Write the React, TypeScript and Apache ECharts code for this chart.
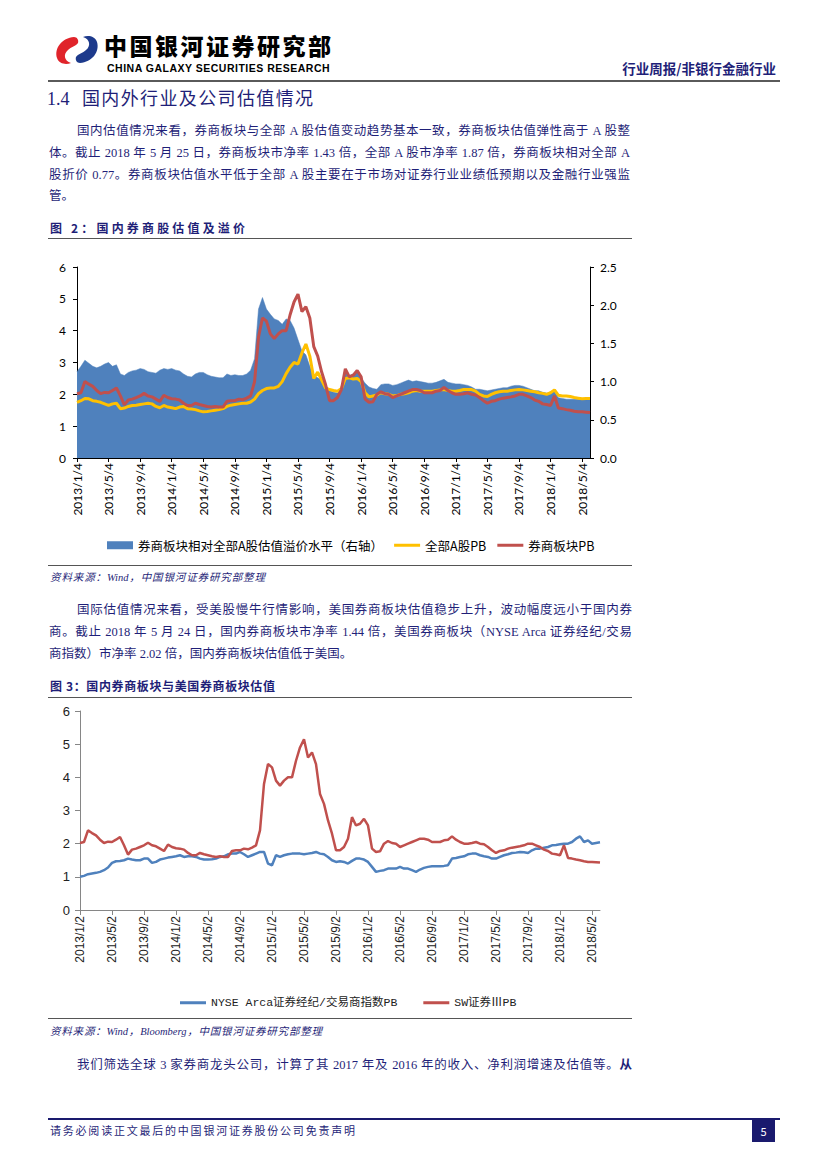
import React, { useEffect, useRef } from 'react';
import * as echarts from 'echarts';

// ---------- data (semi-monthly readings) ----------
// 券商板块PB (left axis) – also SW证券III PB in chart 3
const brokerPB = [
  2.02, 2.05, 2.40, 2.32, 2.25, 2.12, 2.02, 2.06, 2.05, 2.12,
  2.20, 1.95, 1.67, 1.82, 1.85, 1.90, 1.95, 2.03, 1.95, 1.92,
  1.85, 1.78, 1.97, 1.90, 1.86, 1.85, 1.82, 1.72, 1.65, 1.65,
  1.72, 1.68, 1.65, 1.62, 1.60, 1.62, 1.60, 1.60, 1.78, 1.80,
  1.80, 1.85, 1.83, 1.88, 1.95, 2.40, 3.80, 4.40, 4.30, 3.90,
  3.75, 3.90, 4.00, 4.00, 4.50, 4.90, 5.15, 4.60, 4.75, 4.40,
  3.50, 3.20, 2.70, 2.30, 1.80, 1.80, 1.90, 2.15, 2.80, 2.55,
  2.60, 2.75, 2.55, 1.85, 1.75, 1.77, 2.00, 2.08, 2.02, 2.00,
  1.90, 1.95, 2.00, 2.05, 2.10, 2.15, 2.15, 2.12, 2.05, 2.05,
  2.05, 2.10, 2.12, 2.22, 2.12, 2.05, 2.00, 2.00, 2.02, 2.05,
  2.00, 1.98, 1.90, 1.80, 1.72, 1.78, 1.80, 1.85, 1.88, 1.90,
  1.92, 1.95, 2.00, 2.00, 1.95, 1.90, 1.82, 1.78, 1.70, 1.68,
  1.65, 1.95, 1.57, 1.55, 1.52, 1.50, 1.47, 1.45, 1.45, 1.44,
  1.43,
];
// 全部A股PB (left axis)
const allAPB = [
  1.75, 1.80, 1.87, 1.86, 1.80, 1.78, 1.75, 1.70, 1.65, 1.70,
  1.72, 1.55, 1.57, 1.62, 1.65, 1.66, 1.68, 1.70, 1.72, 1.70,
  1.62, 1.58, 1.65, 1.60, 1.58, 1.55, 1.60, 1.62, 1.55, 1.54,
  1.52, 1.48, 1.45, 1.46, 1.48, 1.50, 1.52, 1.55, 1.62, 1.66,
  1.68, 1.70, 1.72, 1.72, 1.76, 1.85, 2.02, 2.12, 2.18, 2.20,
  2.20, 2.25, 2.40, 2.65, 2.85, 3.00, 2.95, 3.30, 3.58, 3.20,
  2.50, 2.70, 2.45, 2.20, 2.15, 2.12, 2.10, 2.18, 2.50, 2.52,
  2.48, 2.50, 2.40, 2.05, 1.92, 1.95, 1.98, 2.05, 2.02, 2.00,
  1.95, 1.96, 2.00, 2.02, 2.05, 2.10, 2.12, 2.10, 2.10, 2.10,
  2.10, 2.12, 2.14, 2.15, 2.12, 2.10, 2.10, 2.12, 2.15, 2.15,
  2.15, 2.10, 2.00, 1.95, 1.93, 2.00, 2.05, 2.08, 2.10, 2.10,
  2.12, 2.14, 2.15, 2.14, 2.12, 2.10, 2.08, 2.05, 2.03, 2.00,
  2.05, 2.14, 1.97, 1.95, 1.95, 1.93, 1.90, 1.88, 1.86, 1.87,
  1.87,
];
// 券商板块相对全部A股估值溢价水平 (right axis)
const premium = [
  1.13, 1.20, 1.28, 1.24, 1.20, 1.18, 1.20, 1.23, 1.25, 1.20,
  1.22, 1.10, 1.08, 1.12, 1.14, 1.15, 1.17, 1.16, 1.13, 1.12,
  1.11, 1.15, 1.17, 1.16, 1.17, 1.15, 1.14, 1.10, 1.07, 1.06,
  1.10, 1.12, 1.12, 1.09, 1.07, 1.06, 1.05, 1.05, 1.10, 1.08,
  1.09, 1.08, 1.08, 1.10, 1.15, 1.30, 1.95, 2.10, 1.95, 1.88,
  1.82, 1.80, 1.75, 1.82, 1.80, 1.70, 1.55, 1.40, 1.35, 1.20,
  1.08, 1.05, 1.02, 0.95, 0.88, 0.86, 0.85, 0.90, 1.15, 1.08,
  1.10, 1.15, 1.05, 0.98, 0.93, 0.91, 0.90, 0.96, 0.97, 0.97,
  0.95, 0.96, 0.98, 1.00, 1.02, 1.00, 1.01, 1.00, 0.99, 0.98,
  0.98, 0.99, 1.01, 1.03, 0.99, 0.98, 0.97, 0.97, 0.96, 0.95,
  0.93, 0.90, 0.90, 0.89, 0.88, 0.89, 0.90, 0.91, 0.92, 0.92,
  0.94, 0.95, 0.95, 0.94, 0.92, 0.90, 0.88, 0.88, 0.86, 0.85,
  0.85, 0.88, 0.79, 0.78, 0.77, 0.77, 0.77, 0.77, 0.76, 0.76,
  0.76,
];
// NYSE Arca证券经纪/交易商指数PB
const nysePB = [
  1.00, 1.03, 1.08, 1.10, 1.12, 1.15, 1.20, 1.28, 1.42, 1.47,
  1.48, 1.50, 1.55, 1.52, 1.50, 1.50, 1.55, 1.55, 1.42, 1.45,
  1.52, 1.55, 1.58, 1.60, 1.62, 1.65, 1.60, 1.62, 1.62, 1.60,
  1.55, 1.52, 1.52, 1.53, 1.55, 1.60, 1.62, 1.68, 1.70, 1.70,
  1.75, 1.68, 1.60, 1.65, 1.70, 1.75, 1.75, 1.40, 1.35, 1.65,
  1.60, 1.65, 1.68, 1.70, 1.70, 1.70, 1.68, 1.70, 1.72, 1.75,
  1.70, 1.68, 1.60, 1.50, 1.45, 1.47, 1.45, 1.40, 1.48, 1.55,
  1.55, 1.52, 1.45, 1.30, 1.15, 1.18, 1.20, 1.25, 1.25, 1.25,
  1.30, 1.25, 1.25, 1.20, 1.15, 1.22, 1.27, 1.30, 1.32, 1.32,
  1.32, 1.33, 1.35, 1.55, 1.57, 1.60, 1.62, 1.68, 1.70, 1.70,
  1.65, 1.62, 1.60, 1.55, 1.55, 1.60, 1.65, 1.68, 1.72, 1.73,
  1.75, 1.74, 1.72, 1.80, 1.85, 1.85, 1.88, 1.90, 1.95, 1.96,
  1.98, 2.00, 2.00, 2.05, 2.15, 2.22, 2.05, 2.10, 2.00, 2.02,
  2.04,
];

const chart1Ticks = [
  '2013/1/4', '2013/5/4', '2013/9/4', '2014/1/4', '2014/5/4', '2014/9/4',
  '2015/1/4', '2015/5/4', '2015/9/4', '2016/1/4', '2016/5/4', '2016/9/4',
  '2017/1/4', '2017/5/4', '2017/9/4', '2018/1/4', '2018/5/4',
];
const chart2Ticks = [
  '2013/1/2', '2013/5/2', '2013/9/2', '2014/1/2', '2014/5/2', '2014/9/2',
  '2015/1/2', '2015/5/2', '2015/9/2', '2016/1/2', '2016/5/2', '2016/9/2',
  '2017/1/2', '2017/5/2', '2017/9/2', '2018/1/2', '2018/5/2',
];

const legend1 = ['券商板块相对全部A股估值溢价水平（右轴）', '全部A股PB', '券商板块PB'];
const legend2 = ['NYSE Arca证券经纪/交易商指数PB', 'SW证券ⅢPB'];

function semiMonthly(d1: number, d2: number, last: string) {
  const out: string[] = [];
  for (let m = 0; m < 65; m++) {
    const y = 2013 + Math.floor(m / 12);
    const mo = (m % 12) + 1;
    out.push(`${y}/${mo}/${d1}`, `${y}/${mo}/${d2}`);
  }
  out.push(last);
  return out;
}
const dates1 = semiMonthly(4, 19, '2018/5/25');
const dates2 = semiMonthly(2, 17, '2018/5/24');

const NAVY = '#1f1f78';
const SERIF = '"Liberation Serif", "Noto Sans CJK SC", serif';
const CJK = '"Noto Sans CJK SC", sans-serif';
const LINE_ICON = 'path://M0,0H26V3H0Z';

type TP = {
  x: number; y: number; w?: number; size: number; bold?: boolean; italic?: boolean;
  color?: string; family?: string; justify?: boolean; align?: 'left' | 'right';
  weight?: number; lh?: number; ls?: number; children: React.ReactNode;
};
function T(p: TP) {
  const lh = p.lh ?? p.size * 1.2;
  const style: React.CSSProperties = {
    position: 'absolute', left: p.x, top: p.y - lh / 2, fontSize: p.size,
    lineHeight: `${lh}px`, color: p.color ?? NAVY, fontFamily: p.family ?? SERIF,
    fontWeight: p.weight ?? (p.bold ? 700 : 400), fontStyle: p.italic ? 'italic' : 'normal',
    whiteSpace: p.justify ? 'normal' : 'nowrap',
  };
  if (p.w) style.width = p.w;
  if (p.ls) style.letterSpacing = p.ls;
  if (p.justify) { style.textAlign = 'justify'; style.textAlignLast = 'justify'; }
  if (p.align === 'right') style.textAlign = 'right';
  return <div style={style}>{p.children}</div>;
}

function HLine({ x, y, w, h, color }: { x: number; y: number; w: number; h: number; color: string }) {
  return <div style={{ position: 'absolute', left: x, top: y, width: w, height: h, background: color }} />;
}

export default function App() {
  const ref1 = useRef<HTMLDivElement>(null);
  const ref2 = useRef<HTMLDivElement>(null);

  useEffect(() => {
    const c1 = echarts.init(ref1.current!, undefined, { renderer: 'svg' });
    const c2 = echarts.init(ref2.current!, undefined, { renderer: 'svg' });
    const t1 = new Set(chart1Ticks);
    const t2 = new Set(chart2Ticks);
    const lab1 = { color: '#000', fontSize: 12, fontFamily: 'Lato, sans-serif' };

    c1.setOption({
      animation: false,
      grid: { left: 37, right: 50, top: 12, bottom: 102 },
      legend: {
        left: 62, top: 279, itemWidth: 26, itemHeight: 8, itemGap: 11,
        textStyle: { fontSize: 12.5, color: '#000', fontFamily: CJK },
        data: [
          { name: legend1[0], icon: 'rect' },
          { name: legend1[1], icon: LINE_ICON },
          { name: legend1[2], icon: LINE_ICON },
        ],
      },
      xAxis: {
        type: 'category', data: dates1, boundaryGap: false,
        axisLine: { lineStyle: { color: '#000', width: 1 } },
        axisTick: { interval: (_i: number, v: string) => t1.has(v), length: 4, lineStyle: { color: '#000' } },
        axisLabel: { ...lab1, interval: (_i: number, v: string) => t1.has(v), rotate: 90, margin: 5 },
        splitLine: { show: false },
      },
      yAxis: [
        {
          type: 'value', min: 0, max: 6, interval: 1, position: 'left',
          axisLine: { show: true, lineStyle: { color: '#000' } },
          axisTick: { show: true, length: 4, lineStyle: { color: '#000' } },
          axisLabel: { ...lab1, margin: 11 }, splitLine: { show: false },
        },
        {
          type: 'value', min: 0, max: 2.5, interval: 0.5, position: 'right',
          axisLine: { show: true, lineStyle: { color: '#000' } },
          axisTick: { show: true, length: 4, lineStyle: { color: '#000' } },
          axisLabel: { ...lab1, margin: 10, formatter: (v: number) => v.toFixed(1) },
          splitLine: { show: false },
        },
      ],
      series: [
        {
          name: legend1[0], type: 'line', yAxisIndex: 1, data: premium, symbol: 'none',
          lineStyle: { width: 0.5, color: '#4F81BD' }, areaStyle: { color: '#4F81BD', opacity: 1 },
          itemStyle: { color: '#4F81BD' },
        },
        {
          name: legend1[1], type: 'line', yAxisIndex: 0, data: allAPB, symbol: 'none',
          lineStyle: { width: 3, color: '#FFC000' }, itemStyle: { color: '#FFC000' },
        },
        {
          name: legend1[2], type: 'line', yAxisIndex: 0, data: brokerPB, symbol: 'none',
          lineStyle: { width: 3, color: '#C0504D' }, itemStyle: { color: '#C0504D' },
        },
      ],
    });

    const lab2 = { color: '#222', fontSize: 12, fontFamily: '"Liberation Sans", Arial, sans-serif' };
    c2.setOption({
      animation: false,
      grid: { left: 40, right: 40, top: 11, bottom: 105 },
      legend: {
        left: 135, top: 292, itemWidth: 26, itemHeight: 8, itemGap: 26,
        textStyle: { fontSize: 11.5, color: '#222', fontFamily: '"Liberation Mono", "Noto Sans CJK SC", monospace' },
        data: [{ name: legend2[0], icon: LINE_ICON }, { name: legend2[1], icon: LINE_ICON }],
      },
      xAxis: {
        type: 'category', data: dates2, boundaryGap: false,
        axisLine: { lineStyle: { color: '#868686', width: 1 } },
        axisTick: { interval: (_i: number, v: string) => t2.has(v), length: 5, lineStyle: { color: '#868686' } },
        axisLabel: { ...lab2, interval: (_i: number, v: string) => t2.has(v), rotate: 90, margin: 6 },
        splitLine: { show: false },
      },
      yAxis: {
        type: 'value', min: 0, max: 6, interval: 1,
        axisLine: { show: true, lineStyle: { color: '#868686' } },
        axisTick: { show: true, length: 5, lineStyle: { color: '#868686' } },
        axisLabel: { ...lab2, fontSize: 13, margin: 10 }, splitLine: { show: false },
      },
      series: [
        {
          name: legend2[0], type: 'line', data: nysePB, symbol: 'none',
          lineStyle: { width: 2.5, color: '#4F81BD' }, itemStyle: { color: '#4F81BD' },
        },
        {
          name: legend2[1], type: 'line', data: brokerPB, symbol: 'none',
          lineStyle: { width: 2.5, color: '#C0504D' }, itemStyle: { color: '#C0504D' },
        },
      ],
    });

    return () => { c1.dispose(); c2.dispose(); };
  }, []);

  return (
    <div style={{ position: 'absolute', left: 0, top: 0, width: 827, height: 1169, background: '#fff', overflow: 'hidden' }}>
      {/* header */}
      <svg style={{ position: 'absolute', left: 53, top: 34 }} width={48} height={32} viewBox="0 0 46 32">
        <path d="M20,3 C8,4 0,14 3,24 C5,30 12,31 17,29 C10,27 9,20 14,16 C17,13 22,12 24,9 C25,6 23,3 20,3 Z" fill="#e0242b" />
        <path d="M26,29 C38,28 46,18 43,8 C41,2 34,1 29,3 C36,5 37,12 32,16 C29,19 24,20 22,23 C21,26 23,29 26,29 Z" fill="#1d3a8c" />
      </svg>
      <T x={104} y={45} w={227} size={23} lh={23} weight={900} color="#000" family={CJK} justify>中国银河证券研究部</T>
      <T x={107} y={67.9} size={10.5} lh={10.5} ls={0.5} bold color="#000" family='"Liberation Sans", Arial, sans-serif'>CHINA GALAXY SECURITIES RESEARCH</T>
      <T x={606} y={68} w={170} size={13.5} bold family={CJK} align="right">行业周报/非银行金融行业</T>
      <HLine x={48} y={80} w={732} h={2} color="#5a5a5a" />

      {/* section title */}
      <T x={47} y={100} size={18}>1.4</T>
      <T x={82} y={100} w={231} size={18} justify>国内外行业及公司估值情况</T>

      {/* paragraph 1 */}
      <T x={77} y={131} w={553} size={12.5} justify>国内估值情况来看，券商板块与全部 A 股估值变动趋势基本一致，券商板块估值弹性高于 A 股整</T>
      <T x={49} y={153} w={581} size={12.5} justify>体。截止 2018 年 5 月 25 日，券商板块市净率 1.43 倍，全部 A 股市净率 1.87 倍，券商板块相对全部 A</T>
      <T x={49} y={175} w={581} size={12.5} justify>股折价 0.77。券商板块估值水平低于全部 A 股主要在于市场对证券行业业绩低预期以及金融行业强监</T>
      <T x={49} y={196} size={12.5}>管。</T>

      {/* figure 2 */}
      <T x={50} y={228} w={195} size={12} bold family={CJK} justify>图 2：国内券商股估值及溢价</T>
      <HLine x={48} y={238} w={584} h={1} color="#555" />
      <div ref={ref1} style={{ position: 'absolute', left: 40, top: 255, width: 600, height: 305 }} />
      <HLine x={48} y={565} w={584} h={1} color="#555" />
      <T x={50} y={578} w={215} size={10.5} italic justify>资料来源：Wind，中国银河证券研究部整理</T>

      {/* paragraph 2 */}
      <T x={77} y={610} w={555} size={12.5} justify>国际估值情况来看，受美股慢牛行情影响，美国券商板块估值稳步上升，波动幅度远小于国内券</T>
      <T x={49} y={632} w={583} size={12.5} justify>商。截止 2018 年 5 月 24 日，国内券商板块市净率 1.44 倍，美国券商板块（NYSE Arca 证券经纪/交易</T>
      <T x={49} y={654} size={12.5}>商指数）市净率 2.02 倍，国内券商板块估值低于美国。</T>

      {/* figure 3 */}
      <T x={50} y={686} w={225} size={12} bold family={CJK} justify>图 3：国内券商板块与美国券商板块估值</T>
      <HLine x={48} y={697} w={584} h={1} color="#555" />
      <div ref={ref2} style={{ position: 'absolute', left: 40, top: 700, width: 600, height: 315 }} />
      <HLine x={48} y={1018} w={584} h={1} color="#555" />
      <T x={50} y={1032} w={272} size={10.5} italic justify>资料来源：Wind，Bloomberg，中国银河证券研究部整理</T>

      {/* paragraph 3 */}
      <T x={77} y={1065} w={555} size={12.5} justify>我们筛选全球 3 家券商龙头公司，计算了其 2017 年及 2016 年的收入、净利润增速及估值等。<b>从</b></T>

      {/* footer */}
      <HLine x={48} y={1118} w={732} h={2} color="#1a1a6e" />
      <T x={50} y={1131} w={305} size={11} family={CJK} justify>请务必阅读正文最后的中国银河证券股份公司免责声明</T>
      <div style={{ position: 'absolute', left: 752, top: 1120, width: 23, height: 22, background: '#1a1a6e', color: '#fff', fontSize: 11, lineHeight: '22px', textAlign: 'center', fontFamily: CJK }}>5</div>
    </div>
  );
}
